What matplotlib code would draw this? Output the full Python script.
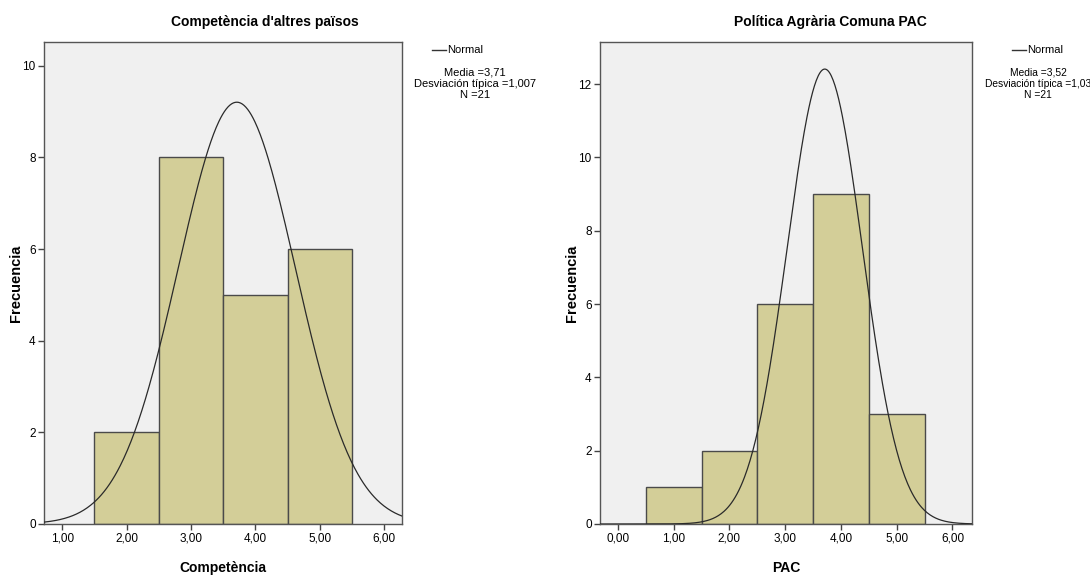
import numpy as np
import matplotlib
matplotlib.use("Agg")
import matplotlib.pyplot as plt

plt.rcParams['font.family'] = ['Liberation Sans', 'DejaVu Sans']

# left histogram: Competència d'altres països
comp_edges = [1.5, 2.5, 3.5, 4.5, 5.5]
comp_counts = [2, 8, 5, 6]
comp_mean = 3.71
comp_sd = 1.007
comp_curve_sd = 0.91   # spread of the drawn curve
comp_n = 21

# right histogram: Política Agrària Comuna PAC
pac_edges = [0.5, 1.5, 2.5, 3.5, 4.5, 5.5]
pac_counts = [1, 2, 6, 9, 3]
pac_mean = 3.52
pac_sd = 1.03
pac_curve_mean = 3.71  # peak of the drawn curve
pac_curve_sd = 0.675
pac_n = 21

BAR = '#d3ce98'
EDGE = '#4a4a4a'
BG = '#f0f0f0'
W, H = 1090, 576


def normal_curve(x, mu, sd, n):
    return n / (sd * np.sqrt(2 * np.pi)) * np.exp(-0.5 * ((x - mu) / sd) ** 2)


def draw(ax, edges, counts, curve_mu, curve_sd, n, xlim, ylim, xticks, yticks, xlabel, ylab_x):
    ax.set_facecolor(BG)
    widths = np.diff(edges)
    ax.bar(edges[:-1], counts, width=widths, align='edge', color=BAR,
           edgecolor=EDGE, linewidth=1.0, zorder=2)
    xs = np.linspace(xlim[0], xlim[1], 400)
    ax.plot(xs, normal_curve(xs, curve_mu, curve_sd, n), color='#2a2a2a', lw=0.9, zorder=3)
    ax.set_xlim(*xlim)
    ax.set_ylim(*ylim)
    ax.set_xticks(xticks)
    ax.set_xticklabels([f"{t:.2f}".replace('.', ',') for t in xticks], fontsize=8.5)
    ax.set_yticks(yticks)
    ax.set_yticklabels([str(t) for t in yticks], fontsize=8.5)
    ax.tick_params(direction='out', length=4, width=1.0, color='#444444', pad=2)
    for s in ax.spines.values():
        s.set_color('#555555')
        s.set_linewidth(1.0)
    ax.set_xlabel(xlabel, fontsize=10, fontweight='bold', labelpad=12)
    ax.set_ylabel('Frecuencia', fontsize=10.5, fontweight='bold')
    ax.yaxis.set_label_coords(ylab_x, 0.5)


def side_legend(fig, cx, line_x0, mean, sd_text, n, fs):
    fig.lines.append(plt.Line2D([line_x0 / W, (line_x0 + 14) / W], [1 - 50 / H, 1 - 50 / H],
                                transform=fig.transFigure, color='#333333', lw=1.0))
    fig.text((line_x0 + 15) / W, 1 - 50 / H, 'Normal', fontsize=8, va='center', ha='left')
    fig.text(cx / W, 1 - 84 / H, f"Media ={mean:.2f}".replace('.', ',') + "\nDesviación típica =" + sd_text + f"\nN ={n}",
             fontsize=fs, va='center', ha='center', linespacing=1.15)


fig = plt.figure(figsize=(10.9, 5.76), dpi=100)
ax1 = fig.add_axes([44 / W, 1 - 524 / H, 358 / W, 482 / H])
ax2 = fig.add_axes([600 / W, 1 - 524 / H, 372 / W, 482 / H])

draw(ax1, comp_edges, comp_counts, comp_mean, comp_curve_sd, comp_n, (0.716, 6.275), (0, 10.52),
     [1, 2, 3, 4, 5, 6], [0, 2, 4, 6, 8, 10], 'Competència', -0.058)
draw(ax2, pac_edges, pac_counts, pac_curve_mean, pac_curve_sd, pac_n, (-0.32, 6.35), (0, 13.15),
     [0, 1, 2, 3, 4, 5, 6], [0, 2, 4, 6, 8, 10, 12], 'PAC', -0.057)

fig.text(265 / W, 1 - 22 / H, "Competència d'altres països", fontsize=10, fontweight='bold', ha='center', va='center')
fig.text(830 / W, 1 - 22 / H, 'Política Agrària Comuna PAC', fontsize=10, fontweight='bold', ha='center', va='center')

side_legend(fig, 475, 432, comp_mean, '1,007', comp_n, 8)
side_legend(fig, 1038, 1012, pac_mean, '1,03', pac_n, 7.4)

fig.savefig('out.png', dpi=100)
